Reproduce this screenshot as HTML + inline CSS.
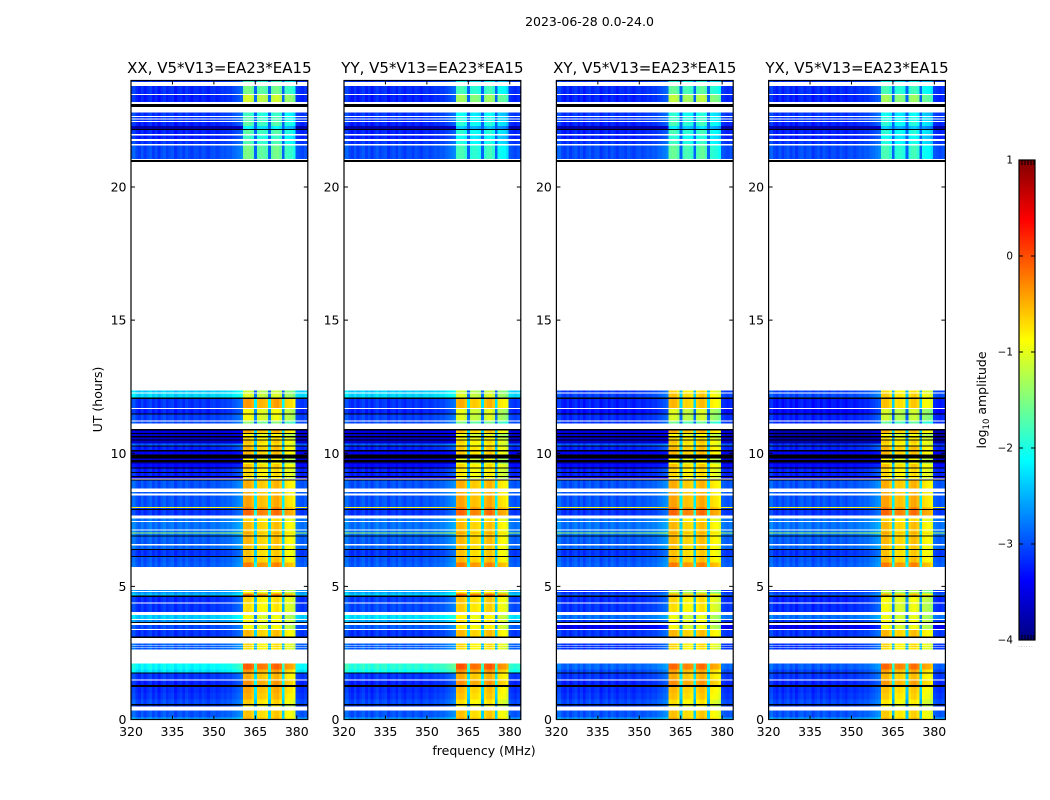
<!DOCTYPE html>
<html lang="en">
<head>
<meta charset="utf-8">
<title>2023-06-28 dynamic spectra</title>
<style>
html,body{margin:0;padding:0;background:#fff;}
svg{display:block;}
text{font-family:"DejaVu Sans","Liberation Sans",sans-serif;fill:#000;}
</style>
</head>
<body>
<svg id="figure" xmlns="http://www.w3.org/2000/svg" width="1050" height="800" viewBox="0 0 1050 800">
  <rect x="0" y="0" width="1050" height="800" fill="#fff"/>
  <text x="589.5" y="26" font-size="12.5" text-anchor="middle">2023-06-28 0.0-24.0</text>
  <text x="484" y="755" font-size="12.5" text-anchor="middle">frequency (MHz)</text>
  <text x="102" y="399.5" font-size="12.5" text-anchor="middle" transform="rotate(-90 102 399.5)">UT (hours)</text>
  <g id="panels"></g>
  <defs>
    <linearGradient id="jetGradient" x1="0" y1="1" x2="0" y2="0"></linearGradient>
  </defs>
  <g id="colorbar"></g>
  <text x="986" y="400" font-size="12.5" text-anchor="middle" transform="rotate(-90 986 400)">log<tspan font-size="8.5" dy="3">10</tspan><tspan dy="-3"> amplitude</tspan></text>
</svg>
<script>
// Value used for flagged (white) and dead (black) time ranges
const W = null;
const B = -9;

// Panel names, in drawing order
const polarizations = ["XX", "YY", "XY", "YX"];
const baselineLabel = "V5*V13=EA23*EA15";

// Axis tick labels
const freqTicks = [320, 335, 350, 365, 380];
const utTicks = [0, 5, 10, 15, 20];
const colorTicks = [-4, -3, -2, -1, 0, 1];

// Upper UT edge (hours) of each time band, first band starts at 0
const bandEndUT = [
  0.08,0.33,0.48,0.52,0.58,0.75,1.0,1.23,1.3,1.46,
  1.5,1.72,1.76,1.88,2.1,2.63,2.7,2.72,2.78,2.8,
  2.85,3.07,3.12,3.37,3.39,3.54,3.62,3.66,3.73,3.77,
  3.92,4.04,4.35,4.39,4.6,4.66,4.73,4.78,4.82,4.87,
  5.72,5.9,6.1,6.14,6.37,6.41,6.54,6.6,6.88,6.92,
  6.98,7.02,7.09,7.13,7.41,7.45,7.55,7.67,7.87,7.91,
  7.95,7.99,8.41,8.48,8.54,8.68,8.98,9.02,9.05,9.1,
  9.15,9.25,9.3,9.42,9.47,9.6,9.66,9.75,9.8,9.95,
  10.07,10.12,10.26,10.29,10.37,10.47,10.51,10.6,10.64,10.72,
  10.76,10.85,10.91,11.12,11.19,11.23,11.46,11.5,11.66,11.7,
  12.04,12.09,12.24,12.28,12.36,20.93,21.02,21.05,21.56,21.62,
  21.73,21.8,21.93,22,22.14,22.18,22.29,22.44,22.48,22.53,
  22.58,22.63,22.67,22.79,23,23.11,23.2,23.45,23.49,23.79,
  23.94,24
];

// log10 amplitude of the quiet band (320-360 and 380-384 MHz) per time band
const quietLevel = [
  -2.6,-3,W,-3.15,B,-3.05,-3.15,-3.2,B,-3.25,
  W,-3.15,B,-2.3,-2.15,W,-2.95,W,-2.95,W,
  -2.95,W,B,-3.15,W,-3.05,W,B,-2.7,W,
  -2.4,W,-3.15,W,-3.2,B,-2.5,-2.7,W,-2.7,
  W,-2.95,-3,B,-3.15,B,-2.9,W,-2.95,B,
  -2.85,-1.3,-2.85,W,-2.85,W,-2.85,W,-3.15,B,
  -3.15,-0.9,-3,W,-2.95,W,-3,B,W,-3.55,
  B,-3.25,B,-3.25,B,-3.35,-3.65,B,-3.65,B,
  -3.45,B,-3.25,B,-2.95,-3.65,B,-3.65,B,-3.65,
  B,-3.55,B,W,-3.05,W,-3.1,B,-3.25,W,
  -3.15,B,-2.35,W,-2.4,W,B,W,-3.05,W,
  -3.15,W,-3.25,W,-3.25,B,-3.8,-3.25,W,-3.15,
  W,-3.15,W,-3.15,W,B,W,-3.25,W,-3.2,
  W,-3.15
];

// log10 amplitude of the strong band (360-380 MHz) per time band
const strongLevel = [
  -0.65,-0.75,W,-1.05,B,-0.9,-0.75,-0.7,B,-0.5,
  W,-0.65,B,-0.55,-0.25,W,-0.9,W,-0.85,W,
  -0.85,W,B,-0.7,W,-1.05,W,B,-1,W,
  -1.1,W,-0.9,W,-0.85,B,-0.4,-1.05,W,-1.05,
  W,-0.4,-0.7,B,-0.75,B,-0.75,W,-0.7,B,
  -0.75,-0.5,-0.75,W,-0.7,W,-0.85,W,-0.3,B,
  -0.35,-0.45,-0.6,W,-0.65,W,-0.65,B,W,-0.95,
  B,-0.85,B,-0.85,B,-0.75,-1.05,B,-1.05,B,
  -0.7,B,-0.7,B,-0.85,-0.75,B,-0.9,B,-1.05,
  B,-0.65,B,W,-1.6,W,-1.1,B,-1.05,W,
  -0.55,B,-1.2,W,-1.3,W,B,W,-1.7,W,
  -1.9,W,-2,W,-1.85,B,-2.3,-1.85,W,-1.9,
  W,-1.9,W,-2,W,B,W,-1.25,W,-1.7,
  W,-2
];

// Frequency (MHz) of the strong-band edges and the narrow gaps inside it
const strongBandMHz = [360.6, 379.6];
const gapChannels = [45, 50, 55];

// Amplitude change per 1 MHz channel, read from the vertical striping
const channelOffset = [
  0.12,0.18,0.02,-0.05,0.1,-0.06,0.04,0.12,-0.04,0.08,
  -0.08,0.05,0.12,-0.02,0.06,0.1,-0.08,0.02,0.08,-0.05,
  0.1,0.02,-0.06,0.06,0.04,-0.04,0.08,0.02,-0.05,0.05,
  0.08,0,0.04,0.1,0.06,0.12,0.1,0.18,0.22,0.28,
  0.35,0.15,0.2,0.18,0.05,-1.6,0,0.05,0.02,-0.05,
  -1.6,0.05,0.15,0.18,0.05,-1.6,-0.1,-0.15,-0.18,-0.3,
  0.1,0.05,0,0.08,0.04
];

// Per-panel adjustment of time ranges: start UT, end UT, quiet change, strong change
const adjustXX = [[0.6, 1.2, 0, 0.1]];
const adjustYY = [[1.76, 2.1, 0.2, 0.05], [3.4, 4.87, 0.1, 0.1], [21, 24, 0, -0.25], [9, 12.04, 0, -0.1]];
const adjustXY = [[1.76, 2.1, -0.75, -0.05], [2.63, 2.85, -0.2, 0], [3.4, 3.92, -0.45, -0.05], [4.66, 4.87, -0.5, -0.3], [11.1, 12.04, -0.1, -0.15], [12.09, 12.36, -0.75, 0.45], [21, 24, 0, -0.1]];
const adjustYX = [[0, 1.72, 0, -0.05], [1.76, 2.1, -0.8, -0.05], [2.63, 2.85, -0.2, 0], [3.4, 3.92, -0.45, -0.05], [4.04, 4.87, -0.05, -0.2], [4.66, 4.87, -0.4, -0.1], [10.3, 10.91, -0.2, -0.05], [11.1, 12.04, -0.15, -0.2], [12.09, 12.36, -0.7, 0.4], [21, 24, 0, -0.25]];
const panelAdjust = [adjustXX, adjustYY, adjustXY, adjustYX];

// Figure layout
const SVGNS = "http://www.w3.org/2000/svg";
const panelLeft = [131, 344, 556.4, 768.6];
const panelWidth = 176.8;
const plotTop = 80.5;
const plotBottom = 719.5;
const freqMin = 320, freqMax = 384;
const utMin = 0, utMax = 24;
const cbX = 1019, cbW = 16, cbTop = 160, cbBottom = 640;

function xScale(panel, mhz) {
  return panelLeft[panel] + (mhz - freqMin) / (freqMax - freqMin) * panelWidth;
}
function yScale(ut) {
  return plotBottom - (ut - utMin) / (utMax - utMin) * (plotBottom - plotTop);
}
function cbScale(v) {
  return cbBottom - (v - colorTicks[0]) / (colorTicks[colorTicks.length - 1] - colorTicks[0]) * (cbBottom - cbTop);
}
function jet(v) {
  const t = Math.max(0, Math.min(1, (v + 4) / 5));
  const c = (x) => Math.round(255 * Math.max(0, Math.min(1, 1.5 - Math.abs(4 * t - x))));
  return "rgb(" + c(3) + "," + c(2) + "," + c(1) + ")";
}
function make(tag, attrs, parent) {
  const el = document.createElementNS(SVGNS, tag);
  for (const k in attrs) el.setAttribute(k, attrs[k]);
  parent.appendChild(el);
  return el;
}
function panelDelta(panel, ut) {
  let dq = 0, ds = 0;
  for (const a of panelAdjust[panel]) {
    if (ut >= a[0] && ut < a[1]) { dq += a[2]; ds += a[3]; }
  }
  return [dq, ds];
}

function drawPanel(panel) {
  const root = document.getElementById("panels");
  const g = make("g", {}, root);
  
  
  const cells = make("g", { "shape-rendering": "crispEdges" }, g);
  
  

  let start = 0;
  bandEndUT.forEach(function (end, b) {
    const y0 = yScale(end), y1 = yScale(start);
    const mid = (start + end) / 2;
    start = end;
    const q = quietLevel[b], s = strongLevel[b];
    if (q === null) return;
    if (q === B) {
      const dead = make("rect", { x: xScale(panel, freqMin), y: y0, width: panelWidth, height: y1 - y0, fill: "#000" }, cells);
      
      
      return;
    }
    const d = panelDelta(panel, mid);
    channelOffset.forEach(function (off, ch) {
      const lo = ch === 0 ? freqMin : 319.6 + ch;
      const hi = Math.min(freqMax, 320.6 + ch);
      if (hi <= lo) return;
      const inStrong = lo >= strongBandMHz[0] - 0.01 && hi <= strongBandMHz[1] + 0.01;
      let v;
      if (inStrong) {
        v = s + d[1] + off;
        if (gapChannels.indexOf(ch) >= 0 && v < -2.9) v = -2.9;
      } else {
        v = q + d[0] + off * (q < -3.3 ? 0.5 : 1);
      }
      const x0 = xScale(panel, lo), x1 = xScale(panel, hi);
      const cell = make("rect", { x: x0, y: y0, width: x1 - x0, height: y1 - y0, fill: jet(v) }, cells);
      
      
    });
  });

  const left = panelLeft[panel], right = left + panelWidth;
  const axes = make("g", { stroke: "#000", "stroke-width": 1 }, g);
  
  
  freqTicks.forEach(function (f) {
    const x = xScale(panel, f);
    make("line", { x1: x, x2: x, y1: plotBottom, y2: plotBottom - 4 }, axes);
    make("line", { x1: x, x2: x, y1: plotTop, y2: plotTop + 4 }, axes);
    const t = make("text", { x: x, y: 736, "font-size": 12.5, "text-anchor": "middle", stroke: "none" }, g);
    t.textContent = String(f);
    
    
  });
  utTicks.forEach(function (u) {
    const y = yScale(u);
    make("line", { x1: left, x2: left + 4, y1: y, y2: y }, axes);
    make("line", { x1: right, x2: right - 4, y1: y, y2: y }, axes);
    const t = make("text", { x: left - 4.5, y: y + 4.5, "font-size": 12.5, "text-anchor": "end", stroke: "none" }, g);
    t.textContent = String(u);
    
    
  });

  const frame = make("rect", { x: left, y: plotTop, width: panelWidth, height: plotBottom - plotTop, fill: "none", stroke: "#000", "stroke-width": 1.2 }, g);
  
  

  const title = make("text", { x: left + panelWidth / 2, y: 73, "font-size": 15, "text-anchor": "middle" }, g);
  title.textContent = polarizations[panel] + ", " + baselineLabel;
  
  
}

function drawColorbar() {
  const grad = document.getElementById("jetGradient");
  for (let i = 0; i <= 32; i++) {
    make("stop", { offset: (i / 32), "stop-color": jet(-4 + 5 * i / 32) }, grad);
  }
  const g = document.getElementById("colorbar");
  const bar = make("rect", { x: cbX, y: cbTop, width: cbW, height: cbBottom - cbTop, fill: "url(#jetGradient)", stroke: "#000", "stroke-width": 1.2 }, g);
  
  
  colorTicks.forEach(function (v) {
    const y = cbScale(v);
    if (v > colorTicks[0] && v < colorTicks[colorTicks.length - 1]) {
      make("line", { x1: cbX, x2: cbX + 4, y1: y, y2: y, stroke: "#000" }, g);
      make("line", { x1: cbX + cbW, x2: cbX + cbW - 4, y1: y, y2: y, stroke: "#000" }, g);
    }
    const t = make("text", { x: cbX - 6, y: y + 3.5, "font-size": 10.4, "text-anchor": "end" }, g);
    t.textContent = String(v).replace("-", "\u2212");
    
    
  });
  [3, 6, 9, 12, 15].forEach(function (dx) {
    make("line", { x1: cbX + dx, x2: cbX + dx, y1: cbTop, y2: cbTop + 5, stroke: "#000" }, g);
    make("line", { x1: cbX + dx, x2: cbX + dx, y1: cbBottom, y2: cbBottom - 5, stroke: "#000" }, g);
  });
  const dots = make("text", { x: cbX + cbW / 2 - 1, y: 647, "font-size": 5, "text-anchor": "middle", "letter-spacing": "1", style: "fill:#777" }, g);
  dots.textContent = "......";
  
  
}

polarizations.forEach(function (_, i) { drawPanel(i); });
drawColorbar();
</script>
</body>
</html>
